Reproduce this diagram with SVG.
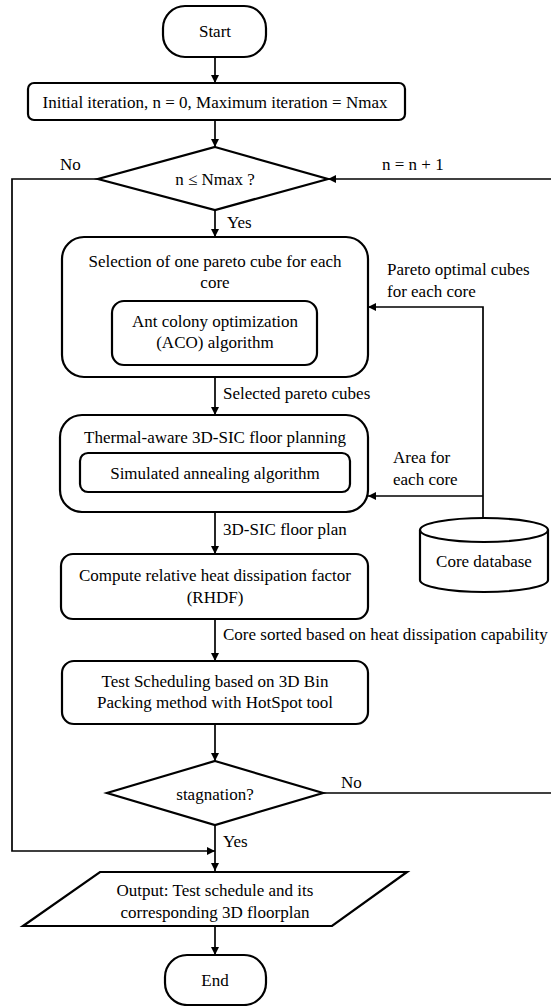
<svg xmlns="http://www.w3.org/2000/svg" width="551" height="1006" viewBox="0 0 551 1006">
<style>
.s{fill:#fff;stroke:#000;stroke-width:2.2}
.c{fill:none;stroke:#000;stroke-width:1.7}
text{font-family:"Liberation Serif","Times New Roman",serif;font-size:17px;fill:#000}
.m{text-anchor:middle}
</style>
<defs>
<marker id="a" viewBox="0 0 10 10" refX="10" refY="5" markerWidth="9" markerHeight="8" markerUnits="userSpaceOnUse" orient="auto">
<path d="M0,0 L10,5 L0,10 z" fill="#000"/>
</marker>
</defs>
<rect width="551" height="1006" fill="#fff"/>
<g id="connectors">
<line class="c" x1="215" y1="57" x2="215" y2="83" marker-end="url(#a)"/>
<line class="c" x1="215" y1="120" x2="215" y2="147" marker-end="url(#a)"/>
<line class="c" x1="215" y1="210" x2="215" y2="237" marker-end="url(#a)"/>
<line class="c" x1="215" y1="377" x2="215" y2="415" marker-end="url(#a)"/>
<line class="c" x1="215" y1="512" x2="215" y2="554" marker-end="url(#a)"/>
<line class="c" x1="215" y1="619" x2="215" y2="661" marker-end="url(#a)"/>
<line class="c" x1="215" y1="724" x2="215" y2="761" marker-end="url(#a)"/>
<line class="c" x1="215" y1="825" x2="215" y2="871" marker-end="url(#a)"/>
<line class="c" x1="215" y1="926" x2="215" y2="955" marker-end="url(#a)"/>
<polyline class="c" points="98,179 12,179 12,851 215,851" marker-end="url(#a)"/>
<line class="c" x1="551" y1="179" x2="328" y2="179" marker-end="url(#a)"/>
<line class="c" x1="323" y1="793" x2="551" y2="793"/>
<polyline class="c" points="483,518 483,307 368,307" marker-end="url(#a)"/>
<line class="c" x1="483" y1="496" x2="368" y2="496" marker-end="url(#a)"/>
<text x="60" y="170">No</text>
<text x="382" y="170">n = n + 1</text>
<text x="227" y="228">Yes</text>
<text x="387" y="275">Pareto optimal cubes</text>
<text x="387" y="297">for each core</text>
<text x="223" y="399">Selected pareto cubes</text>
<text x="393" y="463">Area for</text>
<text x="393" y="485">each core</text>
<text x="223" y="535">3D-SIC floor plan</text>
<text x="223" y="640">Core sorted based on heat dissipation capability</text>
<text x="341" y="788">No</text>
<text x="223" y="847">Yes</text>
</g>
<g id="start">
<rect class="s" x="163" y="6" width="103" height="51" rx="22" ry="22"/>
<text class="m" x="215" y="37">Start</text>
</g>
<g id="init">
<rect class="s" x="28" y="83" width="377" height="37" rx="6"/>
<text class="m" x="215" y="108">Initial iteration, n = 0, Maximum iteration = Nmax</text>
</g>
<g id="cond1">
<polygon class="s" points="215,147 328,179 215,210 98,179"/>
<text class="m" x="215" y="185">n ≤ Nmax ?</text>
</g>
<g id="selection">
<rect class="s" x="62" y="237" width="306" height="140" rx="22"/>
<text class="m" x="215" y="267">Selection of one pareto cube for each</text>
<text class="m" x="215" y="288">core</text>
</g>
<g id="aco">
<rect class="s" x="112" y="301" width="205" height="64" rx="12"/>
<text class="m" x="215" y="327">Ant colony optimization</text>
<text class="m" x="215" y="348">(ACO) algorithm</text>
</g>
<g id="thermal">
<rect class="s" x="60" y="415" width="308" height="97" rx="22"/>
<text class="m" x="215" y="443">Thermal-aware 3D-SIC floor planning</text>
</g>
<g id="sa">
<rect class="s" x="80" y="453" width="270" height="39" rx="8"/>
<text class="m" x="215" y="479">Simulated annealing algorithm</text>
</g>
<g id="database">
<path class="s" d="M420,530 L420,580 A64,12 0 0 0 548,580 L548,530 A64,12 0 0 0 420,530 Z"/>
<path class="c" d="M420,530 A64,12 0 0 0 548,530" style="stroke-width:2.2"/>
<text class="m" x="484" y="567">Core database</text>
</g>
<g id="compute">
<rect class="s" x="61" y="554" width="307" height="65" rx="12"/>
<text class="m" x="215" y="581">Compute relative heat dissipation factor</text>
<text class="m" x="215" y="603">(RHDF)</text>
</g>
<g id="test">
<rect class="s" x="62" y="661" width="306" height="63" rx="12"/>
<text class="m" x="215" y="687">Test Scheduling based on 3D Bin</text>
<text class="m" x="215" y="708">Packing method with HotSpot tool</text>
</g>
<g id="cond2">
<polygon class="s" points="215,761 323,793 215,825 107,793"/>
<text class="m" x="215" y="800">stagnation?</text>
</g>
<g id="output">
<polygon class="s" points="100,872 407,872 332,926 23,926"/>
<text class="m" x="215" y="896">Output: Test schedule and its</text>
<text class="m" x="215" y="918">corresponding 3D floorplan</text>
</g>
<g id="end">
<rect class="s" x="165" y="955" width="101" height="50" rx="22" ry="22"/>
<text class="m" x="215" y="986">End</text>
</g>
</svg>
